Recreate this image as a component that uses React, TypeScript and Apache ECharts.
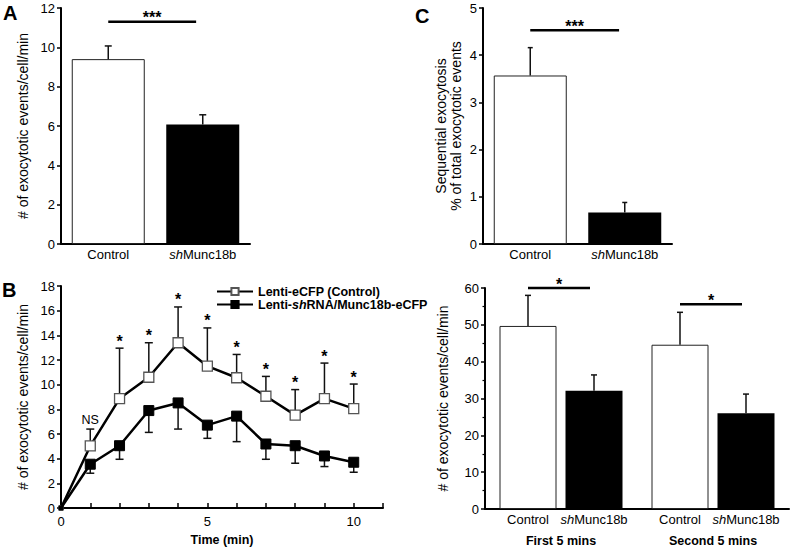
import React, { useEffect, useRef } from 'react';
import * as echarts from 'echarts';

const FONT = "'Liberation Sans', Arial, Helvetica, sans-serif";

// ---------- Panel A ----------
const A_CATEGORIES = ['Control', 'shMunc18b'];
const A_MEANS = [9.4, 6.08];
const A_ERR_TOP = [10.07, 6.57];
const A_SIG_Y = 11.3;
const A_SIG_TEXT = '***';

// ---------- Panel C ----------
const C_CATEGORIES = ['Control', 'shMunc18b'];
const C_MEANS = [3.57, 0.67];
const C_ERR_TOP = [4.16, 0.88];
const C_SIG_Y = 4.53;
const C_SIG_TEXT = '***';

// ---------- Panel B ----------
const B_TIME = [0, 1, 2, 3, 4, 5, 6, 7, 8, 9, 10];
const B_CONTROL = [0, 5.03, 8.87, 10.6, 13.4, 11.5, 10.56, 9.06, 7.53, 8.87, 8.06];
const B_CONTROL_ERR_TOP = [0, 6.4, 12.96, 13.4, 16.3, 14.6, 12.45, 10.67, 9.6, 11.75, 10.05];
const B_SH = [0, 3.55, 5.05, 7.9, 8.52, 6.72, 7.45, 5.19, 5.05, 4.22, 3.71];
const B_SH_ERR_BOTTOM = [0, 2.82, 3.95, 6.13, 6.4, 5.65, 5.38, 3.95, 3.63, 3.36, 2.9];
const B_MARKS = ['', 'NS', '*', '*', '*', '*', '*', '*', '*', '*', '*'];
const B_NAMES = ['Lenti-eCFP (Control)', 'Lenti-shRNA/Munc18b-eCFP'];

// ---------- Panel D ----------
const D_GROUPS = ['First 5 mins', 'Second 5 mins'];
const D_BAR_NAMES = ['Control', 'shMunc18b'];
const D_CONTROL = [49.7, 44.6];
const D_CONTROL_ERR_TOP = [58.0, 53.4];
const D_SH = [32.1, 26.0];
const D_SH_ERR_TOP = [36.4, 31.2];
const D_SIG_Y = [60, 55.6];
const D_SIG_TEXT = ['*', '*'];

// layout/style constants
const D_BAR_W = 57;
const D_BAR_GAP = 9;
const D_OFF = (D_BAR_W + D_BAR_GAP) / 2;

const INK = '#000';
const catRich = {
  n: { fontSize: 13, fontFamily: FONT, color: INK },
  i: { fontSize: 13, fontFamily: FONT, color: INK, fontStyle: 'italic' },
};
const catLabel = (v: string) => (v.startsWith('sh') ? `{i|sh}{n|${v.slice(2)}}` : `{n|${v}}`);

const errLine = (x: number, y0: number, y1: number, cap: number) => [
  { type: 'line', shape: { x1: x, y1: y0, x2: x, y2: y1 }, style: { stroke: '#111', lineWidth: 1.5 } },
  { type: 'line', shape: { x1: x - cap / 2, y1: y1, x2: x + cap / 2, y2: y1 }, style: { stroke: '#111', lineWidth: 1.5 } },
];

const catErrRender = (cap: number) => (_p: any, api: any) => {
  const a = api.coord([api.value(0), api.value(1)]);
  const b = api.coord([api.value(0), api.value(2)]);
  return { type: 'group', children: errLine(a[0], a[1], b[1], cap) };
};

const starText = (x: number, y: number, text: string, size = 16, bold = true) => ({
  type: 'text',
  x,
  y,
  style: {
    text,
    fill: '#000000',
    stroke: 'none',
    fontSize: size,
    fontWeight: bold ? 'bold' : 'normal',
    fontFamily: FONT,
    align: 'center',
    verticalAlign: 'middle',
  },
});

const catSigRender = (text: string, frac: number) => (_p: any, api: any) => {
  const y = api.value(1);
  const c0 = api.coord([0, y]);
  const c1 = api.coord([1, y]);
  const x1 = c0[0] + (c1[0] - c0[0]) * frac;
  return {
    type: 'group',
    children: [
      { type: 'line', shape: { x1: c0[0], y1: c0[1], x2: x1, y2: c0[1] }, style: { stroke: INK, lineWidth: 2.5 } },
      starText((c0[0] + x1) / 2, c0[1] - 4, text),
    ],
  };
};

export default function App() {
  const ref = useRef<HTMLDivElement>(null);

  useEffect(() => {
    if (!ref.current) return;
    const chart = echarts.init(ref.current, undefined, { renderer: 'svg' });

    const axisLine = { show: true, lineStyle: { color: INK, width: 2 } };
    const yTick = { show: true, length: 4, lineStyle: { color: INK, width: 1.5 } };
    const tickLabel = { color: INK, fontSize: 13, fontFamily: FONT };
    const yName = { color: INK, fontSize: 14, fontFamily: FONT };

    const option: any = {
      animation: false,
      textStyle: { fontFamily: FONT },
      grid: [
        { left: 61, top: 8, width: 189, height: 236 },
        { left: 483, top: 8, width: 189, height: 236 },
        { left: 61, top: 286, width: 322, height: 223 },
        { left: 485, top: 288, width: 304, height: 221 },
      ],
      xAxis: [
        {
          gridIndex: 0, type: 'category', data: A_CATEGORIES, axisLine, axisTick: { show: false },
          axisLabel: { interval: 0, margin: 4, formatter: catLabel, rich: catRich },
        },
        {
          gridIndex: 1, type: 'category', data: C_CATEGORIES, axisLine, axisTick: { show: false },
          axisLabel: { interval: 0, margin: 4, formatter: catLabel, rich: catRich },
        },
        {
          gridIndex: 2, type: 'value', min: 0, max: 11, interval: 1, axisLine,
          axisTick: { show: true, inside: true, length: 5, lineStyle: { color: INK, width: 1.5 } },
          axisLabel: { ...tickLabel, margin: 7, formatter: (v: number) => (v % 5 === 0 ? String(v) : '') },
          splitLine: { show: false },
          name: 'Time (min)', nameLocation: 'middle', nameGap: 25,
          nameTextStyle: { color: INK, fontSize: 12.5, fontWeight: 'bold', fontFamily: FONT },
        },
        {
          gridIndex: 3, type: 'category', data: D_GROUPS, axisLine, axisTick: { show: false },
          axisLabel: { interval: 0, margin: 25, color: INK, fontSize: 12.5, fontWeight: 'bold', fontFamily: FONT },
        },
      ],
      yAxis: [
        {
          gridIndex: 0, type: 'value', min: 0, max: 12, interval: 2, axisLine, axisTick: yTick,
          axisLabel: { ...tickLabel, margin: 6 }, splitLine: { show: false },
          name: '# of exocytotic events/cell/min', nameLocation: 'middle', nameGap: 31, nameTextStyle: yName,
        },
        {
          gridIndex: 1, type: 'value', min: 0, max: 5, interval: 1, axisLine, axisTick: yTick,
          axisLabel: { ...tickLabel, margin: 6 }, splitLine: { show: false },
          name: 'Sequential exocytosis\n% of total exocytotic events', nameLocation: 'middle', nameGap: 20,
          nameTextStyle: { ...yName, fontSize: 14, lineHeight: 15 },
        },
        {
          gridIndex: 2, type: 'value', min: 0, max: 18, interval: 2, axisLine, axisTick: yTick,
          axisLabel: { ...tickLabel, margin: 6 }, splitLine: { show: false },
          name: '# of exocytotic events/cell/min', nameLocation: 'middle', nameGap: 31, nameTextStyle: yName,
        },
        {
          gridIndex: 3, type: 'value', min: 0, max: 60, interval: 10, axisLine, axisTick: yTick,
          minorTick: { show: true, splitNumber: 2, length: 2.5, lineStyle: { color: INK, width: 1.2 } },
          axisLabel: { ...tickLabel, margin: 6 }, splitLine: { show: false }, minorSplitLine: { show: false },
          name: '# of exocytotic events/cell/min', nameLocation: 'middle', nameGap: 35, nameTextStyle: yName,
        },
      ],
      legend: [
        {
          data: [B_NAMES[0]], left: 211, top: 280, itemWidth: 36, itemHeight: 9, itemGap: 0,
          textStyle: { rich: { b: { fontWeight: 'bold', fontSize: 12.5, fontFamily: FONT, color: INK } } },
          formatter: (n: string) => `{b|${n}}`,
        },
        {
          data: [B_NAMES[1]], left: 211, top: 293, itemWidth: 36, itemHeight: 9, itemGap: 0,
          textStyle: {
            rich: {
              b: { fontWeight: 'bold', fontSize: 12.5, fontFamily: FONT, color: INK },
              bi: { fontWeight: 'bold', fontStyle: 'italic', fontSize: 12.5, fontFamily: FONT, color: INK },
            },
          },
          formatter: () => '{b|Lenti-}{bi|sh}{b|RNA/Munc18b-eCFP}',
        },
      ],
      graphic: [
        { type: 'text', left: 3, top: 3, style: { text: 'A', fontSize: 20, fontWeight: 'bold', fill: INK, fontFamily: FONT } },
        { type: 'text', left: 2, top: 280, style: { text: 'B', fontSize: 20, fontWeight: 'bold', fill: INK, fontFamily: FONT } },
        { type: 'text', left: 415, top: 6, style: { text: 'C', fontSize: 20, fontWeight: 'bold', fill: INK, fontFamily: FONT } },
      ],
      series: [
        // Panel A
        {
          type: 'bar', xAxisIndex: 0, yAxisIndex: 0, barWidth: 73,
          data: A_MEANS.map((v, i) => ({
            value: v,
            itemStyle: i === 0 ? { color: '#fff', borderColor: '#222', borderWidth: 1 } : { color: '#000' },
          })),
        },
        {
          type: 'custom', xAxisIndex: 0, yAxisIndex: 0, z: 3, renderItem: catErrRender(7),
          data: A_MEANS.map((v, i) => [i, v, A_ERR_TOP[i]]),
        },
        {
          type: 'custom', xAxisIndex: 0, yAxisIndex: 0, z: 3, renderItem: catSigRender(A_SIG_TEXT, 0.93),
          data: [[0, A_SIG_Y]],
        },
        // Panel C
        {
          type: 'bar', xAxisIndex: 1, yAxisIndex: 1, barWidth: 73,
          data: C_MEANS.map((v, i) => ({
            value: v,
            itemStyle: i === 0 ? { color: '#fff', borderColor: '#222', borderWidth: 1 } : { color: '#000' },
          })),
        },
        {
          type: 'custom', xAxisIndex: 1, yAxisIndex: 1, z: 3, renderItem: catErrRender(5),
          data: C_MEANS.map((v, i) => [i, v, C_ERR_TOP[i]]),
        },
        {
          type: 'custom', xAxisIndex: 1, yAxisIndex: 1, z: 3, renderItem: catSigRender(C_SIG_TEXT, 0.94),
          data: [[0, C_SIG_Y]],
        },
        // Panel B error bars
        {
          type: 'custom', xAxisIndex: 2, yAxisIndex: 2, z: 1,
          renderItem: (_p: any, api: any) => {
            const a = api.coord([api.value(0), api.value(1)]);
            const b = api.coord([api.value(0), api.value(2)]);
            return { type: 'group', children: errLine(a[0], a[1], b[1], 8) };
          },
          data: B_TIME.slice(1).map((t) => [t, B_CONTROL[t], B_CONTROL_ERR_TOP[t]]),
        },
        {
          type: 'custom', xAxisIndex: 2, yAxisIndex: 2, z: 1,
          renderItem: (_p: any, api: any) => {
            const a = api.coord([api.value(0), api.value(1)]);
            const b = api.coord([api.value(0), api.value(2)]);
            return { type: 'group', children: errLine(a[0], a[1], b[1], 8) };
          },
          data: B_TIME.slice(1).map((t) => [t, B_SH[t], B_SH_ERR_BOTTOM[t]]),
        },
        // Panel B lines
        {
          name: B_NAMES[0], type: 'line', xAxisIndex: 2, yAxisIndex: 2, z: 4,
          symbol: 'rect', symbolSize: 10,
          itemStyle: { color: '#fff', borderColor: '#555', borderWidth: 1.3 },
          lineStyle: { color: '#000', width: 2.5 },
          data: B_TIME.map((t, i) => (i === 0 ? { value: [t, B_CONTROL[i]], symbolSize: 4 } : [t, B_CONTROL[i]])),
        },
        {
          name: B_NAMES[1], type: 'line', xAxisIndex: 2, yAxisIndex: 2, z: 5,
          symbol: 'rect', symbolSize: 10,
          itemStyle: { color: '#000', borderColor: '#000', borderWidth: 1 },
          lineStyle: { color: '#000', width: 2.5 },
          data: B_TIME.map((t, i) => (i === 0 ? { value: [t, B_SH[i]], symbolSize: 4 } : [t, B_SH[i]])),
        },
        // Panel B significance marks
        {
          type: 'custom', xAxisIndex: 2, yAxisIndex: 2, z: 6,
          itemStyle: { color: '#000' },
          renderItem: (_p: any, api: any) => {
            const c = api.coord([api.value(0), api.value(1)]);
            const t = B_MARKS[api.value(0)];
            if (!t) return { type: 'group', children: [] };
            return t === 'NS' ? starText(c[0], c[1] - 9, t, 12.5, false) : starText(c[0], c[1] - 7, t);
          },
          data: B_TIME.map((t) => [t, B_CONTROL_ERR_TOP[t]]),
        },
        // Panel D bars
        {
          type: 'bar', xAxisIndex: 3, yAxisIndex: 3, barWidth: D_BAR_W, barGap: `${(D_BAR_GAP / D_BAR_W) * 100}%`,
          itemStyle: { color: '#fff', borderColor: '#222', borderWidth: 1 },
          label: { show: true, position: 'bottom', distance: 4, formatter: () => catLabel(D_BAR_NAMES[0]), rich: catRich },
          data: D_CONTROL,
        },
        {
          type: 'bar', xAxisIndex: 3, yAxisIndex: 3, barWidth: D_BAR_W,
          itemStyle: { color: '#000' },
          label: { show: true, position: 'bottom', distance: 4, formatter: () => catLabel(D_BAR_NAMES[1]), rich: catRich },
          data: D_SH,
        },
        {
          type: 'custom', xAxisIndex: 3, yAxisIndex: 3, z: 3,
          renderItem: (_p: any, api: any) => {
            const a = api.coord([api.value(0), api.value(2)]);
            const b = api.coord([api.value(0), api.value(3)]);
            const dx = api.value(1) === 0 ? -D_OFF : D_OFF;
            return { type: 'group', children: errLine(a[0] + dx, a[1], b[1], 6) };
          },
          data: [
            ...D_CONTROL.map((v, g) => [g, 0, v, D_CONTROL_ERR_TOP[g]]),
            ...D_SH.map((v, g) => [g, 1, v, D_SH_ERR_TOP[g]]),
          ],
        },
        {
          type: 'custom', xAxisIndex: 3, yAxisIndex: 3, z: 3,
          renderItem: (p: any, api: any) => {
            const c = api.coord([api.value(0), api.value(1)]);
            const x0 = c[0] - D_OFF;
            const x1 = c[0] + D_OFF - 4;
            return {
              type: 'group',
              children: [
                { type: 'line', shape: { x1: x0, y1: c[1], x2: x1, y2: c[1] }, style: { stroke: INK, lineWidth: 2.5 } },
                starText((x0 + x1) / 2, c[1] - 4, D_SIG_TEXT[p.dataIndex]),
              ],
            };
          },
          data: D_SIG_Y.map((y, g) => [g, y]),
        },
      ],
    };

    chart.setOption(option);
    return () => chart.dispose();
  }, []);

  return <div ref={ref} style={{ position: 'fixed', left: 0, top: 0, width: 793, height: 547, background: '#fff' }} />;
}
